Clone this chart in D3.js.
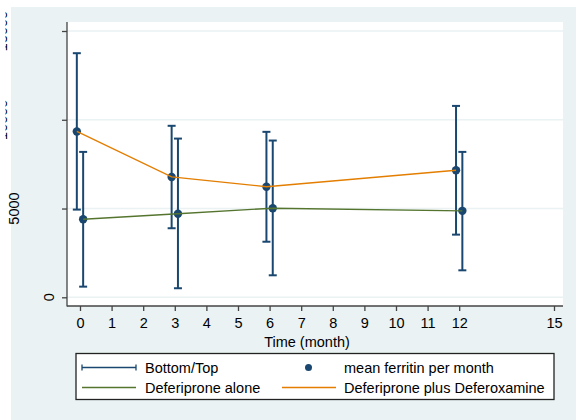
<!DOCTYPE html>
<html><head><meta charset="utf-8">
<script src="https://cdn.jsdelivr.net/npm/d3@7"></script>
<style>html,body{margin:0;padding:0;background:#fff}svg{display:block;font-family:"Liberation Sans",Arial,sans-serif}</style>
</head><body>
<script>
const months = [0, 3, 6, 12];
const comboMean   = [9340, 6780, 6230, 7160];
const comboTop    = [13750, 9660, 9320, 10780];
const comboBottom = [4940, 3890, 3130, 3530];
const aloneMean   = [4400, 4710, 5020, 4870];
const aloneTop    = [8190, 8940, 8830, 8190];
const aloneBottom = [600, 510, 1240, 1520];
const xTicks = [0,1,2,3,4,5,6,7,8,9,10,11,12,15];
const yTicks = [0, 5000, 10000, 15000];
const legendLabels = ["Bottom/Top", "mean ferritin per month", "Deferiprone alone", "Deferiprone plus Deferoxamine"];
const xTitle = "Time (month)";

const W = 580, H = 420, FS = 14.5;
const navy = "#1a476f", green = "#55752f", orange = "#e37e00", bg = "#eaf2f3";
const svg = d3.select("body").append("svg").attr("width", W).attr("height", H);
svg.append("rect").attr("width", W).attr("height", H).attr("fill", "#fff");
svg.append("rect").attr("x", 11).attr("y", 7).attr("width", 565).attr("height", H - 7).attr("fill", bg);

const plot = {l: 67, r: 563, t: 22, b: 306};
svg.append("rect").attr("x", plot.l).attr("y", plot.t).attr("width", plot.r - plot.l).attr("height", plot.b - plot.t).attr("fill", "#fff");

const x = d3.scaleLinear().domain([-0.411, 15.285]).range([plot.l, plot.r]);
const y = d3.scaleLinear().domain([-490, 15507]).range([plot.b, plot.t]);

// grid
svg.append("g").selectAll("line").data(yTicks).join("line")
  .attr("x1", plot.l).attr("x2", plot.r)
  .attr("y1", d => y(d)).attr("y2", d => y(d))
  .attr("stroke", bg).attr("stroke-width", 1.6);

// y axis
const yAx = svg.append("g").attr("transform", `translate(${plot.l},0)`)
  .call(d3.axisLeft(y).tickValues(yTicks).tickSize(5).tickFormat(""));
yAx.select(".domain").attr("stroke", "#444").attr("stroke-width", 1.3).attr("d", `M0,${plot.t}V${plot.b + 0.5}`);
yAx.selectAll(".tick line").attr("stroke", "#444").attr("stroke-width", 1.3);
yAx.selectAll(".tick text").remove();

const clip = svg.append("defs").append("clipPath").attr("id", "lblclip");
clip.append("rect").attr("x", 5.5).attr("y", 0).attr("width", W).attr("height", H);
svg.append("g").attr("clip-path", "url(#lblclip)")
  .selectAll("text").data(yTicks).join("text")
  .attr("text-anchor", "middle").attr("fill", "#000").attr("font-size", FS)
  .attr("transform", d => `translate(${54 - 11.7 * (String(d).length - 1)},${y(d)}) rotate(-90)`)
  .text(d => String(d));

// x axis
const xAx = svg.append("g").attr("transform", `translate(0,${plot.b})`)
  .call(d3.axisBottom(x).tickValues(xTicks).tickSize(5).tickFormat(d => String(d)));
xAx.select(".domain").attr("stroke", "#444").attr("stroke-width", 1.3).attr("d", `M${plot.l},0H${plot.r}`);
xAx.selectAll(".tick line").attr("stroke", "#444").attr("stroke-width", 1.3);
xAx.selectAll(".tick text").attr("fill", "#000").attr("font-size", FS).attr("y", 22).attr("dy", null);
xAx.attr("font-family", null).attr("font-size", null);

svg.append("text").attr("x", 307).attr("y", 347).attr("text-anchor", "middle")
  .attr("font-size", FS).attr("fill", "#000").text(xTitle);

// series
const series = [
  {mean: comboMean, top: comboTop, bot: comboBottom, off: -0.1, color: orange},
  {mean: aloneMean, top: aloneTop, bot: aloneBottom, off: 0.1, color: green}
];
const cap = 4;
series.forEach(s => {
  const pts = months.map((m, i) => ({m: m + s.off, v: s.mean[i], t: s.top[i], b: s.bot[i]}));
  const g = svg.append("g");
  g.selectAll("line.v").data(pts).join("line")
    .attr("x1", d => x(d.m)).attr("x2", d => x(d.m))
    .attr("y1", d => y(d.t)).attr("y2", d => y(d.b))
    .attr("stroke", navy).attr("stroke-width", 2);
  g.selectAll("line.t").data(pts).join("line")
    .attr("x1", d => x(d.m) - cap).attr("x2", d => x(d.m) + cap)
    .attr("y1", d => y(d.t)).attr("y2", d => y(d.t))
    .attr("stroke", navy).attr("stroke-width", 2);
  g.selectAll("line.b").data(pts).join("line")
    .attr("x1", d => x(d.m) - cap).attr("x2", d => x(d.m) + cap)
    .attr("y1", d => y(d.b)).attr("y2", d => y(d.b))
    .attr("stroke", navy).attr("stroke-width", 2);
});
series.forEach(s => {
  const pts = months.map((m, i) => ({m: m + s.off, v: s.mean[i]}));
  svg.append("g").selectAll("circle").data(pts).join("circle")
    .attr("cx", d => x(d.m)).attr("cy", d => y(d.v)).attr("r", 4.2).attr("fill", navy);
});
series.forEach(s => {
  const pts = months.map((m, i) => ({m: m + s.off, v: s.mean[i]}));
  svg.append("path").datum(pts)
    .attr("d", d3.line().x(d => x(d.m)).y(d => y(d.v)))
    .attr("fill", "none").attr("stroke", s.color).attr("stroke-width", 1.4);
});

// legend
const lg = svg.append("g");
lg.append("rect").attr("x", 76).attr("y", 353.5).attr("width", 478).attr("height", 46)
  .attr("fill", "#fff").attr("stroke", "#222").attr("stroke-width", 1.3);
const r1 = 367.5, r2 = 387.5;
lg.append("line").attr("x1", 82).attr("x2", 136).attr("y1", r1).attr("y2", r1).attr("stroke", navy).attr("stroke-width", 1.3);
[82, 136].forEach(xx => lg.append("line").attr("x1", xx).attr("x2", xx).attr("y1", r1 - 3).attr("y2", r1 + 3).attr("stroke", navy).attr("stroke-width", 1.3));
lg.append("circle").attr("cx", 308.5).attr("cy", r1).attr("r", 3.5).attr("fill", navy);
lg.append("line").attr("x1", 82).attr("x2", 136).attr("y1", r2).attr("y2", r2).attr("stroke", green).attr("stroke-width", 1.3);
lg.append("line").attr("x1", 282).attr("x2", 336).attr("y1", r2).attr("y2", r2).attr("stroke", orange).attr("stroke-width", 1.3);
const lpos = [[145, r1], [344, r1], [145, r2], [344, r2]];
legendLabels.forEach((t, i) => lg.append("text").attr("x", lpos[i][0]).attr("y", lpos[i][1] + 5)
  .attr("font-size", FS).attr("fill", "#000").text(t));
</script>
</body></html>
